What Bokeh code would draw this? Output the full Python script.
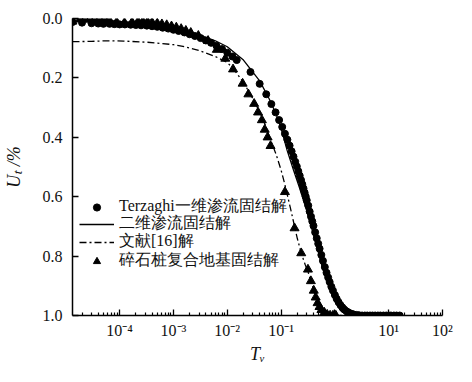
from bokeh.plotting import figure
from bokeh.models import Range1d, FixedTicker, Legend, LegendItem
from bokeh.embed import file_html
from bokeh.resources import INLINE

# Terzaghi one-dimensional seepage consolidation (dots)
terz_T = [1.33e-5, 2.0e-5, 3.0e-5, 4.0e-5, 5.0e-5, 6.5e-5, 8.0e-5, 1.0e-4, 1.25e-4, 1.6e-4,
          2.0e-4, 2.5e-4, 3.2e-4, 4.0e-4, 5.0e-4, 6.3e-4, 8.0e-4, 1.0e-3, 1.25e-3, 1.6e-3,
          2.0e-3, 2.5e-3, 3.2e-3, 4.0e-3, 5.0e-3, 6.3e-3, 8.0e-3, 1.0e-2, 1.25e-2, 1.5e-2,
          0.027, 0.040, 0.053, 0.066, 0.079, 0.092, 0.105, 0.118, 0.131, 0.144,
          0.157, 0.170, 0.183, 0.196, 0.209, 0.222, 0.235, 0.248, 0.261, 0.274,
          0.287, 0.30, 0.32, 0.34, 0.36, 0.38, 0.40, 0.43, 0.46, 0.49,
          0.52, 0.56, 0.60, 0.65, 0.70, 0.75, 0.80, 0.86, 0.92, 1.0,
          1.08, 1.17, 1.27, 1.38, 1.5, 1.65, 1.8, 2.0, 2.2, 2.5,
          2.8, 3.2, 3.6, 4.0, 4.5, 5.0, 5.6, 6.3, 7.0, 8.0,
          9.0, 10.0, 11.0, 12.5, 14.0, 16.0]
terz_U = [0.012, 0.014, 0.016, 0.017, 0.018, 0.018, 0.019, 0.020, 0.020, 0.021,
          0.022, 0.023, 0.024, 0.026, 0.028, 0.031, 0.034, 0.038, 0.042, 0.047,
          0.053, 0.059, 0.066, 0.074, 0.082, 0.092, 0.103, 0.115, 0.128, 0.140,
          0.180, 0.220, 0.255, 0.288, 0.316, 0.342, 0.365, 0.388, 0.408, 0.428,
          0.447, 0.465, 0.482, 0.498, 0.514, 0.529, 0.544, 0.558, 0.572, 0.586,
          0.599, 0.612, 0.630, 0.650, 0.667, 0.683, 0.698, 0.720, 0.740, 0.758,
          0.775, 0.796, 0.816, 0.837, 0.856, 0.872, 0.887, 0.903, 0.916, 0.931,
          0.944, 0.955, 0.965, 0.973, 0.980, 0.986, 0.990, 0.994, 0.996, 0.998,
          0.999, 1.0, 1.0, 1.0, 1.0, 1.0, 1.0, 1.0, 1.0, 1.0,
          1.0, 1.0, 1.0, 1.0, 1.0, 1.0]

# two-dimensional seepage consolidation (solid line)
twod_T = [1.33e-5, 1e-4, 1e-3, 3e-3, 6e-3, 0.01, 0.02, 0.04, 0.06, 0.08, 0.1, 0.13, 0.17,
          0.22, 0.28, 0.35, 0.45, 0.6, 0.8, 1.0, 1.3, 1.8, 3.0, 16.0]
twod_U = [0.0, 0.01, 0.03, 0.055, 0.075, 0.095, 0.14, 0.21, 0.27, 0.32, 0.37, 0.445, 0.51,
          0.57, 0.63, 0.69, 0.76, 0.845, 0.91, 0.95, 0.985, 0.998, 1.0, 1.0]

# reference [16] solution (dash-dot line)
ref_T = [1.33e-5, 3e-5, 6e-5, 1.2e-4, 3.3e-4, 1e-3, 1.5e-3, 3e-3, 6e-3, 0.01, 0.0128, 0.02,
         0.03, 0.04, 0.05, 0.064, 0.08, 0.1, 0.118, 0.15, 0.178, 0.2, 0.237, 0.28, 0.316,
         0.36, 0.44, 0.52, 0.64, 0.8, 1.0, 16.0]
ref_U = [0.078, 0.077, 0.075, 0.076, 0.080, 0.088, 0.094, 0.108, 0.128, 0.148, 0.168, 0.215,
         0.270, 0.315, 0.355, 0.41, 0.455, 0.51, 0.56, 0.64, 0.70, 0.74, 0.79, 0.828, 0.852,
         0.886, 0.935, 0.97, 0.99, 0.999, 1.0, 1.0]

# stone column composite foundation consolidation (triangles)
tri_T = [1.33e-5, 1.85e-5, 2.28e-5, 2.8e-5, 3.4e-5, 4.2e-5, 5.2e-5, 6.4e-5, 8.8e-5, 1.23e-4,
         1.7e-4, 2.2e-4, 2.7e-4, 3.3e-4, 4.0e-4, 5.0e-4, 6.1e-4, 7.5e-4, 9.2e-4, 1.13e-3,
         1.39e-3, 1.7e-3, 2.1e-3, 2.9e-3, 4.4e-3, 6.4e-3, 9.2e-3, 0.0128, 0.0193, 0.0247,
         0.0316, 0.0373, 0.044, 0.0497, 0.0562, 0.0637, 0.118, 0.178, 0.237, 0.316,
         0.358, 0.405, 0.44, 0.477, 0.518, 0.562, 0.637, 0.72, 0.815, 0.92, 1.04]
tri_U = [0.010, 0.003, 0.003, 0.003, 0.003, 0.003, 0.004, 0.005, 0.012, 0.014,
         0.012, 0.010, 0.010, 0.011, 0.013, 0.016, 0.019, 0.022, 0.026, 0.030,
         0.035, 0.041, 0.048, 0.058, 0.075, 0.105, 0.135, 0.171, 0.219, 0.255,
         0.287, 0.316, 0.342, 0.374, 0.400, 0.429, 0.584, 0.706, 0.790, 0.845,
         0.884, 0.916, 0.939, 0.958, 0.971, 0.981, 0.990, 0.997, 1.0, 1.0, 1.0]

x_major = [1e-4, 1e-3, 1e-2, 1e-1, 1e0, 1e1, 1e2]
x_labels = ["10⁻⁴", "10⁻³", "10⁻²", "10⁻¹", "", "10¹", "10²"]
y_major = [0.0, 0.2, 0.4, 0.6, 0.8, 1.0]
y_labels = ["0.0", "0.2", "0.4", "0.6", "0.8", "1.0"]

legend_labels = ["Terzaghi一维渗流固结解", "二维渗流固结解", "文献[16]解", "碎石桩复合地基固结解"]

SERIF = "serif"

p = figure(width=456, height=366, x_axis_type="log",
           x_range=Range1d(1.33e-5, 100), y_range=Range1d(1.0, 0.0),
           output_backend="svg", toolbar_location=None,
           min_border_left=64, min_border_right=14, min_border_top=18, min_border_bottom=45)
p.outline_line_color = None
p.grid.visible = False

r_solid = p.line(twod_T, twod_U, line_color="black", line_width=1.3)
r_dash = p.line(ref_T, ref_U, line_color="black", line_width=1.3, line_dash="7 3 2 3")
r_dots = p.scatter(terz_T, terz_U, marker="circle", size=7, fill_color="black", line_color="black")
r_tri = p.scatter(tri_T, tri_U, marker="triangle", size=9, fill_color="black", line_color="black")

minor = []
for d in [1e-5, 1e-4, 1e-3, 1e-2, 1e-1, 1e0, 1e1]:
    for k in range(2, 10):
        minor.append(d * k)

xa = p.xaxis[0]
xa.ticker = FixedTicker(ticks=x_major, minor_ticks=minor)
xa.major_label_overrides = dict(zip(x_major, x_labels))
ya = p.yaxis[0]
ya.ticker = FixedTicker(ticks=y_major)
ya.major_label_overrides = dict(zip(y_major, y_labels))

for ax in (xa, ya):
    ax.axis_line_color = "black"
    ax.axis_line_width = 1.5
    ax.major_tick_in = 6
    ax.major_tick_out = 0
    ax.major_tick_line_color = "black"
    ax.major_tick_line_width = 1.3
    ax.minor_tick_in = 3
    ax.minor_tick_out = 0
    ax.minor_tick_line_color = "black"
    ax.minor_tick_line_width = 1.2
    ax.major_label_text_font = SERIF
    ax.major_label_text_font_size = "16px"
    ax.major_label_text_color = "#111111"
    ax.axis_label_text_font = SERIF
    ax.axis_label_text_font_size = "18px"
    ax.axis_label_text_font_style = "italic"
    ax.axis_label_text_color = "#111111"

ya.minor_tick_line_color = None
xa.major_label_standoff = 6
ya.major_label_standoff = 10
xa.axis_label = "Tᵥ"
ya.axis_label = "Uₜ /%"
xa.axis_label_standoff = 2
ya.axis_label_standoff = 16

renderers = [r_dots, r_solid, r_dash, r_tri]
offsets = [98, 81, 63, 44]
for lab, rend, vy in zip(legend_labels, renderers, offsets):
    lg = Legend(items=[LegendItem(label=lab, renderers=[rend])], location=(7, vy))
    lg.border_line_color = None
    lg.background_fill_alpha = 0
    lg.padding = 0
    lg.spacing = 0
    lg.margin = 0
    lg.glyph_width = 35
    lg.glyph_height = 18
    lg.label_height = 18
    lg.label_standoff = 5
    lg.label_text_font = SERIF
    lg.label_text_font_size = "16px"
    lg.label_text_color = "#111111"
    p.add_layout(lg)

open("out.html", "w").write(file_html(p, INLINE))
